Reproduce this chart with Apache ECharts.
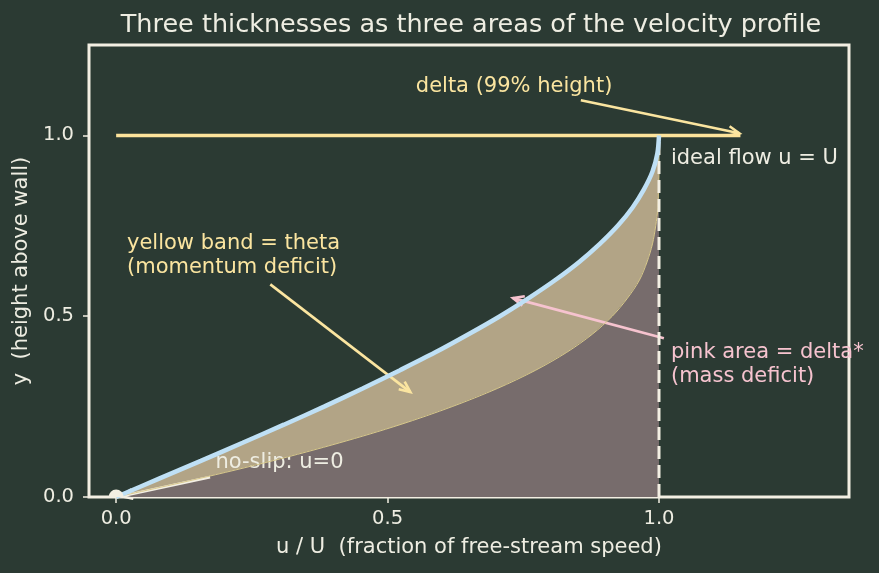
<!DOCTYPE html>
<html>
<head>
<meta charset="utf-8">
<script src="https://cdn.jsdelivr.net/npm/echarts@6/dist/echarts.min.js"></script>
<style>
  html, body { margin: 0; padding: 0; background: #2b3a33; }
  #chart { width: 879px; height: 573px; }
</style>
</head>
<body>
<div id="chart"></div>
<script>
// heights above the wall (y / delta)
const heights = [0, 0.05, 0.1, 0.15, 0.2, 0.25, 0.3, 0.35, 0.4, 0.45, 0.5,
  0.55, 0.6, 0.65, 0.7, 0.75, 0.8, 0.85, 0.9, 0.95, 1.0];
// velocity profile u/U (blue curve)
const profileU = [0, 0.078, 0.156, 0.233, 0.309, 0.383, 0.454, 0.522, 0.588, 0.649, 0.707,
  0.760, 0.809, 0.853, 0.891, 0.924, 0.951, 0.972, 0.988, 0.997, 1.0];
// lower edge of the yellow band (top of the pink area)
const bandEdgeU = [0, 0.150, 0.288, 0.412, 0.523, 0.619, 0.702, 0.772, 0.830, 0.877, 0.914,
  0.942, 0.964, 0.978, 0.988, 0.994, 0.998, 0.999, 1.0, 1.0, 1.0];
// 99% thickness line
const deltaLine = [[0, 1.0], [1.15, 1.0]];
const idealFlow = [[1.0, 0], [1.0, 1.0]];
const wallPoint = [[0, 0]];

const xTicks = [0, 0.5, 1.0];
const yTicks = [0, 0.5, 1.0];

// annotations: text, anchor [x, y], colour
const notes = [
  ["delta (99% height)", [0.552, 1.135], "#fbe5a0"],
  ["ideal flow u = U", [1.022, 0.937], "#eeede2"],
  ["yellow band = theta\n(momentum deficit)", [0.020, 0.667], "#fbe5a0"],
  ["pink area = delta*\n(mass deficit)", [1.022, 0.367], "#f6c3cf"],
  ["no-slip: u=0", [0.183, 0.094], "#eeede2"]
];
// arrows: from [x, y] to [x, y], colour
const arrows = [
  [0.856, 1.097, 1.148, 1.006, "#fbe5a0"],
  [0.284, 0.588, 0.542, 0.290, "#fbe5a0"],
  [1.009, 0.439, 0.731, 0.550, "#f6c3cf"],
  [0.173, 0.055, 0.010, 0.002, "#f3efe3"]
];

const cream = "#f3efe3";
const font = "DejaVu Sans, sans-serif";

const profilePts = heights.map((y, i) => [profileU[i], y]);
const bandEdgePts = heights.map((y, i) => [bandEdgeU[i], y]);

// pink area: under the band edge, bounded by u = 1 and the wall
const pinkPoly = bandEdgePts.concat([[1.0, 0]]);
// yellow band: between profile and band edge
const bandPoly = profilePts.concat(bandEdgePts.slice().reverse());

function polygonSeries(poly, fill) {
  return {
    type: "custom",
    silent: true,
    data: [0],
    renderItem: (params, api) => ({
      type: "polygon",
      shape: { points: poly.map(p => api.coord(p)), smooth: 0 },
      style: { fill: fill }
    })
  };
}

const chart = echarts.init(document.getElementById("chart"));

chart.setOption({
  backgroundColor: "#2b3a33",
  animation: false,
  title: {
    text: "Three thicknesses as three areas of the velocity profile",
    left: 466,
    top: 7,
    textAlign: "center",
    textStyle: { color: "#eeede2", fontSize: 25.5, fontWeight: "normal", fontFamily: font }
  },
  grid: {
    left: 89, right: 30, top: 45, bottom: 76,
    show: true,
    borderColor: cream,
    borderWidth: 3,
    backgroundColor: "transparent"
  },
  xAxis: {
    type: "value",
    min: -0.05,
    max: 1.35,
    name: "u / U  (fraction of free-stream speed)",
    nameLocation: "middle",
    nameGap: 40,
    nameTextStyle: { color: "#eeede2", fontSize: 21, fontFamily: font },
    axisLine: { show: false, onZero: false },
    splitLine: { show: false },
    axisTick: { show: true, length: 6, customValues: xTicks, lineStyle: { color: cream, width: 1.5 } },
    axisLabel: {
      customValues: xTicks,
      color: "#eeede2", fontSize: 19.5, fontFamily: font, margin: 12,
      formatter: v => v.toFixed(1)
    }
  },
  yAxis: {
    type: "value",
    min: 0,
    max: 1.25,
    name: "y  (height above wall)",
    nameLocation: "middle",
    nameGap: 51,
    nameTextStyle: { color: "#eeede2", fontSize: 21, fontFamily: font },
    axisLine: { show: false, onZero: false },
    splitLine: { show: false },
    axisTick: { show: true, length: 6, customValues: yTicks, lineStyle: { color: cream, width: 1.5 } },
    axisLabel: {
      customValues: yTicks,
      color: "#eeede2", fontSize: 19.5, fontFamily: font, margin: 15,
      formatter: v => v.toFixed(1)
    }
  },
  series: [
    polygonSeries(pinkPoly, "#776c6c"),
    polygonSeries(bandPoly, "#b2a486"),
    {
      type: "line",
      data: bandEdgePts,
      symbol: "none",
      smooth: 0.3,
      lineStyle: { color: "#d9c98d", width: 1 }
    },
    {
      type: "line",
      data: idealFlow,
      symbol: "none",
      lineStyle: { color: cream, width: 3, type: [13, 6] }
    },
    {
      type: "line",
      data: deltaLine,
      symbol: "none",
      lineStyle: { color: "#fde39b", width: 3.5 }
    },
    {
      type: "line",
      data: profilePts,
      symbol: "none",
      smooth: 0.3,
      lineStyle: { color: "#bfe0f5", width: 4.5 }
    },
    {
      type: "custom",
      silent: true,
      data: arrows.map(a => [a[0], a[1], a[2], a[3]]),
      encode: { x: [0, 2], y: [1, 3] },
      renderItem: (params, api) => {
        const a = arrows[params.dataIndex];
        const p1 = api.coord([a[0], a[1]]);
        const p2 = api.coord([a[2], a[3]]);
        const ang = Math.atan2(p1[1] - p2[1], p1[0] - p2[0]);
        const L = 12, w = 0.42;
        const h1 = [p2[0] + L * Math.cos(ang + w), p2[1] + L * Math.sin(ang + w)];
        const h2 = [p2[0] + L * Math.cos(ang - w), p2[1] + L * Math.sin(ang - w)];
        return {
          type: "group",
          children: [
            { type: "line", shape: { x1: p1[0], y1: p1[1], x2: p2[0], y2: p2[1] },
              style: { stroke: a[4], lineWidth: 2.6 } },
            { type: "polyline", shape: { points: [h1, p2, h2] },
              style: { stroke: a[4], lineWidth: 2.6, fill: null } }
          ]
        };
      }
    },
    {
      type: "custom",
      silent: true,
      data: wallPoint,
      z: 5,
      renderItem: (params, api) => {
        const p = api.coord(wallPoint[params.dataIndex]);
        return {
          type: "sector",
          shape: { cx: p[0], cy: p[1], r: 7.5, r0: 0, startAngle: Math.PI, endAngle: 2 * Math.PI },
          style: { fill: cream }
        };
      }
    },
    {
      type: "custom",
      silent: true,
      data: notes.map(n => n[1]),
      renderItem: (params, api) => {
        const n = notes[params.dataIndex];
        const p = api.coord(n[1]);
        return {
          type: "text",
          x: p[0],
          y: p[1],
          style: {
            text: n[0],
            fill: n[2],
            font: "21px " + font,
            lineHeight: 24,
            align: "left",
            verticalAlign: "middle"
          }
        };
      }
    }
  ]
});
</script>
</body>
</html>
